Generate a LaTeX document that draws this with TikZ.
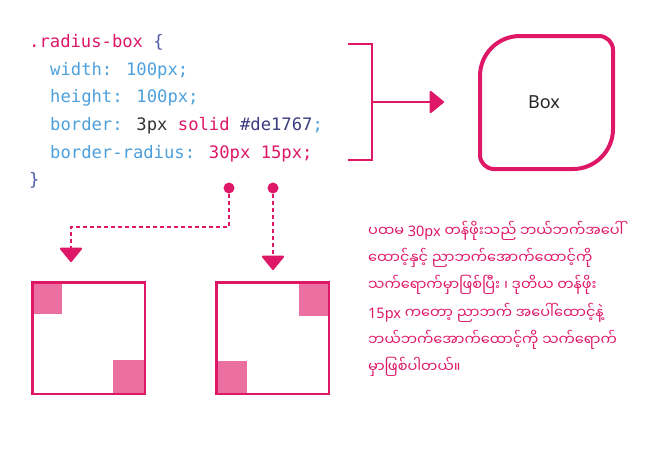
\documentclass[tikz,border=0pt]{standalone}
\usepackage{fontspec}
\usetikzlibrary{arrows.meta}
\newfontfamily\codefont{DejaVu Sans Mono}
\newfontfamily\boxfont{Noto Sans}
\newfontfamily\myfont[Script=Myanmar]{Noto Sans Myanmar UI}
\newcommand\lat[1]{{\boxfont #1}}
\definecolor{pk}{HTML}{DE1767}
\definecolor{shd}{HTML}{EC6FA2}
\definecolor{prop}{HTML}{4DA0DC}
\definecolor{navy}{HTML}{3C3C80}
\definecolor{brc}{HTML}{4E5AA8}
\definecolor{gr}{HTML}{333333}
\begin{document}
\begin{tikzpicture}[x=1pt,y=1pt,
  code/.style={anchor=base west, inner sep=0pt, font=\codefont\fontsize{17.2}{20}\selectfont},
  mya/.style={anchor=base west, inner sep=0pt, text=pk, font=\myfont\fontsize{14.5}{16}\selectfont},
  conn/.style={draw=pk, line width=2pt},
  tip/.style={-{Triangle[length=15pt,width=24pt,round]}},
  dashconn/.style={conn, dash pattern=on 4pt off 3pt, tip},
  dot/.style={circle, fill=pk, minimum size=11pt, inner sep=0pt},
  sq/.style={draw=pk, line width=2.5pt, minimum width=112.5pt, minimum height=111.5pt, inner sep=0pt},
  boxline/.style={draw=pk, line width=4pt}]
\useasboundingbox (0,0) rectangle (646,-451);

% code
\node[code] (l1) at (29,-47.5) {\textcolor{pk}{.radius-box} \textcolor{brc}{\{}};
\node[code] (l2) at (50,-75) {\textcolor{prop}{width: 100px;}};
\node[code] (l3) at (50,-102.7) {\textcolor{prop}{height: 100px;}};
\node[code] (l4) at (50,-130.3) {\textcolor{prop}{border:} \textcolor{gr}{3px} \textcolor{pk}{solid} \textcolor{navy}{\#de1767}\textcolor{prop}{;}};
\node[code] (l5) at (50,-158) {\textcolor{prop}{border-radius:} \textcolor{pk}{30px 15px;}};
\node[code] (l6) at (29,-185.5) {\textcolor{brc}{\}}};

% bracket and arrow
\coordinate (brA) at (348,-44);
\coordinate (brB) at (372,-44);
\coordinate (brC) at (372,-160);
\coordinate (brD) at (348,-160);
\coordinate (brM) at (372,-102);
\coordinate (arrT) at (444,-102);
\draw[conn] (brA) -- (brB) -- (brC) -- (brD);
\draw[conn, tip] (brM) -- (arrT);

% radius box
\draw[boxline] (520,-36) -- (599,-36) arc[start angle=90,end angle=0,radius=14pt]
  -- (613,-129) arc[start angle=0,end angle=-90,radius=40pt]
  -- (494,-169) arc[start angle=270,end angle=180,radius=14pt]
  -- (480,-76) arc[start angle=180,end angle=90,radius=40pt] -- cycle;
\node[font=\boxfont\fontsize{18}{20}\selectfont, text=black!85] (box) at (544,-102) {Box};

% dots and dashed connectors
\node[dot] (d1) at (229,-188) {};
\node[dot] (d2) at (273,-188) {};
\coordinate (c1) at (229,-227);
\coordinate (c2) at (71,-227);
\coordinate (t1) at (71,-262);
\coordinate (t2) at (273,-270);
\draw[dashconn] (d1.south) -- (c1) -- (c2) -- (t1);
\draw[dashconn] (d2.south) -- (t2);

% shaded corners
\fill[shd] (31,-281) rectangle (62,-314);
\fill[shd] (113,-360) rectangle (146,-395);
\fill[shd] (299,-281) rectangle (330,-316);
\fill[shd] (215,-361) rectangle (247,-395);
\node[sq] (sqL) at (88.5,-338) {};
\node[sq] (sqR) at (272.5,-338) {};

% Burmese text
\node[mya] (m1) at (368,-236) {ပထမ \lat{30px} တန်ဖိုးသည် ဘယ်ဘက်အပေါ်};
\node[mya] (m2) at (368,-263.3) {ထောင့်နှင့် ညာဘက်အောက်ထောင့်ကို};
\node[mya] (m3) at (368,-290.6) {သက်ရောက်မှာဖြစ်ပြီး ၊ ဒုတိယ တန်ဖိုး};
\node[mya] (m4) at (368,-318) {\lat{15px} ကတော့ ညာဘက် အပေါ်ထောင့်နဲ့};
\node[mya] (m5) at (368,-345.2) {ဘယ်ဘက်အောက်ထောင့်ကို သက်ရောက်};
\node[mya] (m6) at (368,-372.5) {မှာဖြစ်ပါတယ်။};
\end{tikzpicture}
\end{document}
